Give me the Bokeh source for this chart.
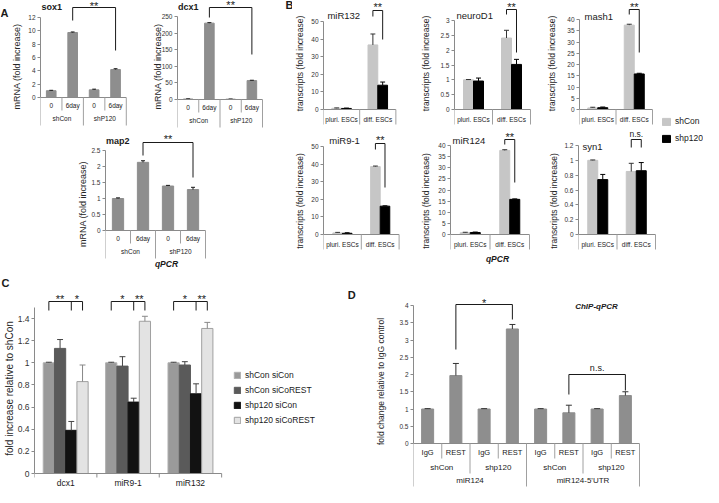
import numpy as np
from bokeh.plotting import figure
from bokeh.models import (Range1d, Label, FixedTicker, Legend, LegendItem,
                          CustomJSTickFormatter)
from bokeh.layouts import row, column
from bokeh.embed import file_html
from bokeh.resources import INLINE

FONT = "Liberation Sans"
INK = "#1a1a1a"
AXIS = "#8a8a8a"
SEP = "#a0a0a0"
A_BAR = "#8e8e8e"
D_BAR = "#8e8e8e"
B_CON = "#c6c6c6"
B_P120 = "#000000"

# ---------------- data ----------------
a_cats = ["0", "6day", "0", "6day"]
a_groups = ["shCon", "shP120"]
sox1_vals = [1.02, 9.75, 1.15, 4.2]
sox1_err = [0.06, 0.08, 0.1, 0.12]
sox1_ticks = [0, 2, 4, 6, 8, 10, 12]
dcx1_vals = [1.5, 230.0, 1.0, 57.0]
dcx1_err = [0.5, 1.5, 0.5, 1.0]
dcx1_ticks = [0, 50, 100, 150, 200, 250]
map2_vals = [1.0, 2.13, 1.39, 1.28]
map2_err = [0.02, 0.05, 0.02, 0.07]
map2_ticks = [0, 0.5, 1, 1.5, 2, 2.5]

b_cats = ["pluri. ESCs", "diff. ESCs"]
b_series = ["shCon", "shp120"]
miR132_con, miR132_con_err = [0.7, 36.7], [0.2, 6.2]
miR132_p120, miR132_p120_err = [0.6, 13.8], [0.2, 1.8]
miR132_ticks = [0, 10, 20, 30, 40, 50]
neuroD1_con, neuroD1_con_err = [1.0, 2.41], [0.01, 0.26]
neuroD1_p120, neuroD1_p120_err = [0.96, 1.52], [0.1, 0.17]
neuroD1_ticks = [0, 0.5, 1, 1.5, 2, 2.5, 3]
mash1_con, mash1_con_err = [0.7, 37.5], [0.3, 0.4]
mash1_p120, mash1_p120_err = [0.8, 15.8], [0.3, 0.3]
mash1_ticks = [0, 5, 10, 15, 20, 25, 30, 35, 40]
miR91_con, miR91_con_err = [0.9, 38.6], [0.3, 0.3]
miR91_p120, miR91_p120_err = [0.7, 16.1], [0.3, 0.2]
miR91_ticks = [0, 10, 20, 30, 40, 50]
miR124_con, miR124_con_err = [0.8, 37.8], [0.2, 0.3]
miR124_p120, miR124_p120_err = [0.9, 15.8], [0.2, 0.2]
miR124_ticks = [0, 5, 10, 15, 20, 25, 30, 35, 40]
syn1_con, syn1_con_err = [1.0, 0.85], [0.005, 0.11]
syn1_p120, syn1_p120_err = [0.74, 0.86], [0.07, 0.11]
syn1_ticks = [0, 0.2, 0.4, 0.6, 0.8, 1.0, 1.2]

c_genes = ["dcx1", "miR9-1", "miR132"]
c_series = ["shCon siCon", "shCon siCoREST", "shp120 siCon", "shp120 siCoREST"]
c_shCon_siCon, c_shCon_siCon_err = [1.0, 1.0, 1.0], [0.005, 0.005, 0.005]
c_shCon_siCoREST, c_shCon_siCoREST_err = [1.13, 0.97, 0.98], [0.08, 0.085, 0.03]
c_shp120_siCon, c_shp120_siCon_err = [0.39, 0.645, 0.72], [0.08, 0.035, 0.09]
c_shp120_siCoREST, c_shp120_siCoREST_err = [0.83, 1.375, 1.31], [0.15, 0.045, 0.055]
c_ticks = [0, 0.2, 0.4, 0.6, 0.8, 1.0, 1.2, 1.4]
c_sig = [("**", "*"), ("*", "**"), ("*", "**")]

d_antibody = ["IgG", "REST", "IgG", "REST", "IgG", "REST", "IgG", "REST"]
d_condition = ["shCon", "shp120", "shCon", "shp120"]
d_locus = ["miR124", "miR124-5'UTR"]
d_vals = [1.0, 1.97, 1.0, 3.32, 1.0, 0.89, 1.0, 1.39]
d_err = [0.01, 0.35, 0.01, 0.13, 0.01, 0.22, 0.01, 0.11]
d_ticks = [0, 0.5, 1, 1.5, 2, 2.5, 3, 3.5, 4]


def blank(w, h):
    f = figure(width=w, height=h, title=None, output_backend="svg", toolbar_location=None,
               x_axis_type=None, y_axis_type=None, x_range=Range1d(0, 1),
               y_range=Range1d(0, 1), min_border=0)
    f.outline_line_color = None
    f.grid.visible = False
    return f


def screen_label(f, x, y, s, size, style="bold"):
    f.add_layout(Label(x=x, y=y, x_units="screen", y_units="screen", text=s, text_font=FONT,
                       text_font_size=f"{size}px", text_font_style=style,
                       text_align="left", text_baseline="middle", text_color=INK))


class Panel:
    """One chart; geometry is given in page pixels of the reference picture."""
    def __init__(self, box, ax_x, right_x, ncat, base_y, tick_y, tick_v, ticks,
                 ylabel, ylab_size, ylab_standoff, bound_top=None, tick_size=6.5):
        fx0, fy0, fx1, fy1 = box
        self.ax_x, self.base_y, self.n = ax_x, base_y, ncat
        self.kx = ncat / (right_x - ax_x)
        self.ky = tick_v / (base_y - tick_y)
        p = figure(width=fx1 - fx0, height=fy1 - fy0, title=None,
                   output_backend="svg", toolbar_location=None,
                   x_axis_type=None,
                   x_range=Range1d(0, (fx1 - ax_x) * self.kx),
                   y_range=Range1d((base_y - fy1) * self.ky, (base_y - fy0) * self.ky),
                   min_border_left=ax_x - fx0, min_border_right=0,
                   min_border_top=0, min_border_bottom=0)
        p.outline_line_color = None
        p.grid.visible = False
        p.background_fill_color = "white"
        p.border_fill_color = "white"
        ya = p.yaxis[0]
        ya.bounds = (0, bound_top if bound_top is not None else ticks[-1])
        ya.ticker = FixedTicker(ticks=list(ticks), minor_ticks=[])
        ya.formatter = CustomJSTickFormatter(code="return String(Math.round(tick*100)/100)")
        ya.axis_line_color = AXIS
        ya.major_tick_line_color = AXIS
        ya.major_tick_out = 3
        ya.major_tick_in = 0
        ya.minor_tick_out = 0
        ya.minor_tick_in = 0
        ya.major_label_standoff = 2
        ya.major_label_text_font = FONT
        ya.major_label_text_font_size = f"{tick_size}px"
        ya.major_label_text_color = "#333333"
        ya.axis_label = ylabel
        ya.axis_label_text_font = FONT
        ya.axis_label_text_font_style = "normal"
        ya.axis_label_text_font_size = f"{ylab_size}px"
        ya.axis_label_text_color = "#262626"
        ya.axis_label_standoff = ylab_standoff
        self.p = p

    def X(self, px):
        return (px - self.ax_x) * self.kx

    def Y(self, py):
        return (self.base_y - py) * self.ky

    def label(self, x, py, s, size, style="normal", align="center", angle=0, color=INK):
        self.p.add_layout(Label(x=x, y=self.Y(py), text=s, text_font=FONT,
                                text_font_size=f"{size}px", text_font_style=style,
                                text_align=align, text_baseline="middle",
                                angle=angle, text_color=color))

    def vseg(self, xs, py0, py1, color=SEP, width=1):
        xs = list(xs)
        self.p.segment(x0=xs, y0=[self.Y(py0)] * len(xs), x1=xs, y1=[self.Y(py1)] * len(xs),
                       line_color=color, line_width=width)

    def baseline(self):
        self.p.segment(x0=[0], y0=[0], x1=[self.n], y1=[0], line_color=AXIS, line_width=1)

    def errors(self, xs, tops, errs, cap_px, color):
        xs = np.asarray(xs, dtype=float)
        tops = np.asarray(tops, dtype=float)
        ends = tops + np.asarray(errs, dtype=float)
        self.p.segment(x0=xs, y0=tops, x1=xs, y1=ends, line_color=color, line_width=1)
        hc = cap_px * self.kx / 2
        self.p.segment(x0=xs - hc, y0=ends, x1=xs + hc, y1=ends, line_color=color, line_width=1)

    def bracket(self, xs, top_py, bottoms_py, color=INK):
        self.p.segment(x0=[xs[0]], y0=[self.Y(top_py)], x1=[xs[-1]], y1=[self.Y(top_py)],
                       line_color=color, line_width=1)
        self.p.segment(x0=list(xs), y0=[self.Y(top_py)] * len(xs), x1=list(xs),
                       y1=[self.Y(b) for b in bottoms_py], line_color=color, line_width=1)


def build_A(box, ax, right, base, tick_y, ticks, vals, errs, title, title_x, title_y,
            ylab_standoff, br):
    P = Panel(box, ax, right, len(a_cats), base, tick_y, ticks[-1], ticks,
              "mRNA (fold increase)", 9, ylab_standoff)
    x = np.arange(len(a_cats)) + 0.5
    P.p.vbar(x=x, top=vals, width=0.45, bottom=0, fill_color=A_BAR, line_color=A_BAR)
    P.errors(x, vals, errs, 4, INK)
    P.baseline()
    P.vseg([1, 3], base, base + 13)
    P.vseg([0, 2, 4], base, base + 28)
    for xi, c in zip(x, a_cats):
        P.label(xi, base + 8, c, 6.5)
    for gi, g in enumerate(a_groups):
        P.label(2 * gi + 1, base + 21, g, 6.5)
    P.label(P.X(title_x), title_y, title, 9, "bold", align="left")
    top, lb, rb, sy = br
    P.bracket([x[1], x[3]], top, [lb, rb])
    P.label((x[1] + x[3]) / 2, sy + 2, "**", 11)
    return P


def build_B(box, ax, right, base, tick_y, ticks, con, con_err, p120, p120_err,
            title, title_pos, ylab_standoff, br, sig="**"):
    P = Panel(box, ax, right, len(b_cats), base, tick_y, ticks[-1], ticks,
              "transcripts (fold increase)", 8.5, ylab_standoff)
    bw = 10 * P.kx
    xc = np.arange(len(b_cats)) + 0.5
    x1, x2 = xc - bw / 2, xc + bw / 2
    P.p.vbar(x=x1, top=con, width=bw, bottom=0, fill_color=B_CON, line_color=B_CON)
    P.p.vbar(x=x2, top=p120, width=bw, bottom=0, fill_color=B_P120, line_color=B_P120)
    P.errors(x1, con, con_err, 5, "#333333")
    P.errors(x2, p120, p120_err, 5, "#000000")
    P.baseline()
    P.vseg([0, 1, 2], base, base + 15)
    for xi, c in zip(xc, b_cats):
        P.label(xi, base + 10, c, 6.5)
    P.label(P.X(title_pos[0]), title_pos[1], title, 9.5, align="left")
    top, lb, rb, sy = br
    P.bracket([x1[1], x2[1]], top, [lb, rb])
    if sig == "**":
        P.label(xc[1], sy + 2, sig, 11)
    else:
        P.label(xc[1], sy, sig, 8.5)
    return P


# ---------------- panel A ----------------
figA = blank(9, 132)
screen_label(figA, 0, 132 - 12.5, "A", 11)
sox1 = build_A((17, 8, 150, 140), 43, 133, 105, 25, sox1_ticks, sox1_vals, sox1_err,
               "sox1", 44, 14, 3, (15, 28, 58, 11.5))
dcx1 = build_A((150, 8, 300, 140), 185, 270, 107, 24, dcx1_ticks, dcx1_vals, dcx1_err,
               "dcx1", 185.5, 14, -4, (15, 25, 62, 10.5))
dcx1.label(dcx1.X(293), 12, "B", 11, "bold", align="left")
map2 = build_A((8, 140, 300, 283), 113, 213, 238, 158, map2_ticks, map2_vals, map2_err,
               "map2", 113.5, 148, 0, (150, 163, 185, 144))
map2.label(map2.X(174), 271, "qPCR", 8.5, "bold italic")

# ---------------- panel B ----------------
R1, R2 = 8, 134
b132 = build_B((300, R1, 420, R2), 329, 403, 117, 29, miR132_ticks, miR132_con, miR132_con_err,
               miR132_p120, miR132_p120_err, "miR132", (333, 23), 3, (18, 24, 47, 12))
bneu = build_B((420, R1, 548, R2), 462, 538, 117, 28, neuroD1_ticks, neuroD1_con, neuroD1_con_err,
               neuroD1_p120, neuroD1_p120_err, "neuroD1", (464, 23), 6, (17, 22, 60, 12))
bmash = build_B((548, R1, 664, R2), 587, 660, 117, 27, mash1_ticks, mash1_con, mash1_con_err,
                mash1_p120, mash1_p120_err, "mash1", (592, 24), 7, (17, 22, 60, 12))
b91 = build_B((300, R2, 420, 283), 327, 406, 242, 154, miR91_ticks, miR91_con, miR91_con_err,
              miR91_p120, miR91_p120_err, "miR9-1", (333, 148), 3, (151, 157, 195, 145))
b124 = build_B((420, R2, 548, 283), 458, 537, 242, 153, miR124_ticks, miR124_con, miR124_con_err,
               miR124_p120, miR124_p120_err, "miR124", (460, 148), 4, (147, 152, 190, 142))
bsyn = build_B((548, R2, 664, 283), 586, 663, 242, 153, syn1_ticks, syn1_con, syn1_con_err,
               syn1_p120, syn1_p120_err, "syn1", (590, 154), 2, (147, 155, 155, 141), sig="n.s.")
b124.label(b124.X(505), 266, "qPCR", 8.5, "bold italic")

# legend for B (own column)
legf = blank(47, 275)
lr1 = legf.vbar(x=[np.nan], top=[np.nan], width=0.5, fill_color=B_CON, line_color=B_CON)
lr2 = legf.vbar(x=[np.nan], top=[np.nan], width=0.5, fill_color=B_P120, line_color=B_P120)
legB = Legend(items=[LegendItem(label=b_series[0], renderers=[lr1]),
                     LegendItem(label=b_series[1], renderers=[lr2])],
              location=(5, 275 - 143), orientation="vertical", padding=0, margin=0,
              spacing=7, glyph_width=10, glyph_height=9, label_height=10, label_standoff=4,
              border_line_color=None, background_fill_alpha=0,
              label_text_font=FONT, label_text_font_size="8.5px", label_text_color=INK)
legf.add_layout(legB)

# ---------------- panel C ----------------
figCl = blank(362, 14)
screen_label(figCl, 1, 7, "C", 11)
PC = Panel((8, 297, 370, 495), 37, 227, len(c_genes), 481, 326, 1.4, c_ticks,
           "fold increase relative to shCon", 10, 0, bound_top=1.5, tick_size=8.5)
c_vals = [c_shCon_siCon, c_shCon_siCoREST, c_shp120_siCon, c_shp120_siCoREST]
c_errs = [c_shCon_siCon_err, c_shCon_siCoREST_err, c_shp120_siCon_err, c_shp120_siCoREST_err]
c_fill = ["#9a9a9a", "#5a5a5a", "#121212", "#e3e3e3"]
c_line = ["#b0b0b0", "#5a5a5a", "#121212", "#a0a0a0"]
c_errc = ["#444444", "#444444", "#444444", "#888888"]
cbw = 11.4 * PC.kx
c_x = []
c_rend = []
for s in range(4):
    xs = np.arange(len(c_genes)) + 0.5 + (s - 1.5) * cbw
    c_x.append(xs)
    r = PC.p.vbar(x=xs, top=c_vals[s], width=cbw, bottom=0,
                  fill_color=c_fill[s], line_color=c_line[s])
    c_rend.append(r)
    PC.errors(xs, c_vals[s], c_errs[s], 6, c_errc[s])
PC.baseline()
PC.vseg(range(len(c_genes) + 1), 481, 485, AXIS)
for g, name in enumerate(c_genes):
    PC.label(g + 0.5, 490, name, 8.5)
    xs3 = [c_x[0][g], c_x[2][g], c_x[3][g]]
    PC.bracket(xs3, 309, [318, 318, 318])
    PC.label((xs3[0] + xs3[1]) / 2, 306, c_sig[g][0], 11)
    PC.label((xs3[1] + xs3[2]) / 2, 306, c_sig[g][1], 11)
PC.label(PC.X(355), 302, "D", 11, "bold", align="left")
legC = Legend(items=[LegendItem(label=c_series[s], renderers=[c_rend[s]]) for s in range(4)],
              location=(199, 495 - 433), orientation="vertical", padding=0, margin=0,
              spacing=5, glyph_width=8, glyph_height=8, label_height=10, label_standoff=4,
              border_line_color=None, background_fill_alpha=0,
              label_text_font=FONT, label_text_font_size="8.5px", label_text_color=INK)
PC.p.add_layout(legC)

# ---------------- panel D ----------------
PD = Panel((370, 283, 711, 495), 421, 647, len(d_antibody), 451, 313, 4, d_ticks,
           "fold change relative to IgG control", 8.5, 10)
dx = np.arange(len(d_antibody)) + 0.5
PD.p.vbar(x=dx, top=d_vals, width=0.425, bottom=0, fill_color=D_BAR, line_color=D_BAR)
PD.errors(dx, d_vals, d_err, 6, "#333333")
PD.baseline()
PD.vseg([1, 3, 5, 7], 451, 466)
PD.vseg([2, 6], 451, 481)
PD.vseg([0, 4, 8], 451, 494)
for xi, a in zip(dx, d_antibody):
    PD.label(xi, 460, a, 7.5)
for i, c in enumerate(d_condition):
    PD.label(2 * i + 1, 475, c, 8)
for i, l in enumerate(d_locus):
    PD.label(4 * i + 2, 488, l, 8)
PD.bracket([dx[1], dx[3]], 312, [357, 327])
PD.label((dx[1] + dx[3]) / 2, 310, "*", 11)
PD.bracket([dx[5], dx[7]], 382, [402, 398])
PD.label((dx[5] + dx[7]) / 2, 375, "n.s.", 9)
PD.label(PD.X(604), 314, "ChIP-qPCR", 8, "bold italic")

# ---------------- layout ----------------
colA = column(row(figA, sox1.p, dcx1.p), map2.p)
colB = column(row(b132.p, bneu.p, bmash.p), row(b91.p, b124.p, bsyn.p))
top = row(colA, colB, legf)
bottom = row(column(row(figCl), PC.p), PD.p)
layout = column(top, bottom)

open("out.html", "w").write(file_html(layout, INLINE))
